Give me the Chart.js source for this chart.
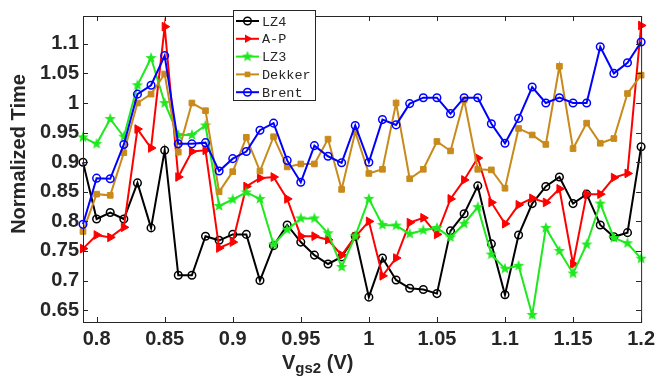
<!DOCTYPE html>
<html>
<head>
<meta charset="utf-8">
<script src="https://cdn.jsdelivr.net/npm/chart.js@4.4.0/dist/chart.umd.min.js"></script>
<style>
html, body { margin: 0; padding: 0; background: #fff; }
</style>
</head>
<body>
<canvas id="chart" width="660" height="379"></canvas>
<script>
// Gate voltage (x) and normalized times for each solver
const vgs = [0.79, 0.80, 0.81, 0.82, 0.83, 0.84, 0.85, 0.86, 0.87, 0.88, 0.89, 0.90, 0.91, 0.92,
             0.93, 0.94, 0.95, 0.96, 0.97, 0.98, 0.99, 1.00, 1.01, 1.02, 1.03, 1.04, 1.05, 1.06,
             1.07, 1.08, 1.09, 1.10, 1.11, 1.12, 1.13, 1.14, 1.15, 1.16, 1.17, 1.18, 1.19, 1.20];
const lz4 = [0.900, 0.804, 0.815, 0.804, 0.865, 0.789, 0.920, 0.709, 0.709, 0.775, 0.768, 0.778, 0.778, 0.700,
             0.759, 0.794, 0.765, 0.743, 0.728, 0.740, 0.775, 0.672, 0.738, 0.701, 0.687, 0.685, 0.678, 0.784,
             0.813, 0.860, 0.762, 0.676, 0.777, 0.830, 0.859, 0.875, 0.830, 0.846, 0.794, 0.774, 0.781, 0.926];
const ap = [0.754, 0.777, 0.773, 0.790, 0.956, 0.924, 1.129, 0.875, 0.918, 0.920, 0.755, 0.765, 0.859, 0.873,
            0.875, 0.838, 0.775, 0.775, 0.769, 0.743, 0.774, 0.800, 0.708, 0.738, 0.798, 0.806, 0.778, 0.838,
            0.870, 0.907, 0.832, 0.796, 0.828, 0.839, 0.832, 0.855, 0.728, 0.846, 0.846, 0.874, 0.881, 1.131];
const lz3 = [0.942, 0.931, 0.973, 0.943, 1.030, 1.076, 1.000, 0.946, 0.946, 0.962, 0.826, 0.837, 0.849, 0.838,
             0.761, 0.786, 0.805, 0.805, 0.780, 0.723, 0.775, 0.838, 0.794, 0.793, 0.779, 0.785, 0.789, 0.773,
             0.796, 0.824, 0.744, 0.720, 0.725, 0.642, 0.789, 0.750, 0.712, 0.761, 0.830, 0.772, 0.763, 0.737];
const dekker = [0.783, 0.846, 0.844, 0.916, 1.000, 1.015, 1.049, 0.917, 1.000, 0.987, 0.850, 0.884, 0.942, 0.885,
                0.943, 0.892, 0.897, 0.897, 0.939, 0.854, 0.951, 0.881, 0.888, 1.000, 0.872, 0.888, 0.935, 0.919,
                1.005, 0.888, 0.887, 0.856, 0.957, 0.946, 0.930, 1.062, 0.923, 0.966, 0.932, 0.940, 1.016, 1.047];
const brent = [0.795, 0.873, 0.872, 0.930, 1.015, 1.030, 1.080, 0.931, 0.931, 0.933, 0.885, 0.906, 0.918, 0.954,
               0.966, 0.903, 0.866, 0.928, 0.910, 0.899, 0.962, 0.900, 0.972, 0.963, 0.999, 1.009, 1.009, 0.982,
               1.009, 1.009, 0.965, 0.932, 0.974, 1.027, 1.000, 1.009, 1.000, 1.000, 1.095, 1.050, 1.068, 1.103];
const xTicks = [0.8, 0.85, 0.9, 0.95, 1, 1.05, 1.1, 1.15, 1.2];
const yTicks = [0.65, 0.7, 0.75, 0.8, 0.85, 0.9, 0.95, 1, 1.05, 1.1];

const GREEN = '#1ee81e';
const GOLD = '#c98a1c';

// filled pentagram used as the LZ3 marker
function makeStar(size, color) {
    const c = document.createElement('canvas');
    c.width = size; c.height = size;
    const g = c.getContext('2d');
    const r = size / 2, ri = r * 0.42;
    g.beginPath();
    for (let k = 0; k < 10; k++) {
        const rad = k % 2 === 0 ? r : ri;
        const a = -Math.PI / 2 + k * Math.PI / 5;
        g.lineTo(r + rad * Math.cos(a), r + rad * Math.sin(a));
    }
    g.closePath();
    g.fillStyle = color;
    g.fill();
    return c;
}
const starImg = makeStar(12, GREEN);

function pts(arr) {
    return arr.map((v, i) => ({ x: vgs[i], y: v }));
}

const series = [
    { label: 'LZ4', data: pts(lz4), borderColor: '#000', backgroundColor: 'rgba(0,0,0,0)',
      pointStyle: 'circle', pointRadius: 3.8, pointBorderWidth: 1.5, order: 5 },
    { label: 'A-P', data: pts(ap), borderColor: '#ff0000', backgroundColor: '#ff0000',
      pointStyle: 'triangle', pointRotation: 90, pointRadius: 5, pointBorderWidth: 1, order: 4 },
    { label: 'LZ3', data: pts(lz3), borderColor: GREEN, backgroundColor: GREEN,
      pointStyle: starImg, pointRadius: 6, order: 3 },
    { label: 'Dekker', data: pts(dekker), borderColor: GOLD, backgroundColor: GOLD,
      pointStyle: 'rect', pointRadius: 4, pointBorderWidth: 1, order: 2 },
    { label: 'Brent', data: pts(brent), borderColor: '#0000ff', backgroundColor: 'rgba(0,0,0,0)',
      pointStyle: 'circle', pointRadius: 3.8, pointBorderWidth: 1.5, order: 1 }
];
series.forEach(s => {
    s.borderWidth = 2;
    s.tension = 0;
    s.fill = false;
    s.clip = false;
    s.pointHoverRadius = s.pointRadius;
});

function drawMarker(ctx, s, x, y) {
    ctx.save();
    ctx.strokeStyle = s.borderColor;
    ctx.fillStyle = s.backgroundColor;
    ctx.lineWidth = 1.5;
    if (s.label === 'LZ3') {
        ctx.drawImage(starImg, x - 6, y - 6);
    } else if (s.pointStyle === 'circle') {
        ctx.beginPath(); ctx.arc(x, y, 3.8, 0, Math.PI * 2); ctx.stroke();
    } else if (s.pointStyle === 'triangle') {
        ctx.beginPath();
        ctx.moveTo(x + 5, y); ctx.lineTo(x - 2.5, y - 4.3); ctx.lineTo(x - 2.5, y + 4.3);
        ctx.closePath(); ctx.fill();
    } else {
        ctx.fillRect(x - 2.8, y - 2.8, 5.6, 5.6);
    }
    ctx.restore();
}

const framePlugin = {
    id: 'frame',
    afterDatasetsDraw(chart) {
        const ctx = chart.ctx;
        const a = chart.chartArea;
        const xs = chart.scales.x, ys = chart.scales.y;
        ctx.save();
        ctx.strokeStyle = '#262626';
        ctx.lineWidth = 1;
        ctx.strokeRect(a.left + 0.5, a.top + 0.5, a.right - a.left, a.bottom - a.top);
        ctx.beginPath();
        xTicks.forEach(t => {
            const px = Math.round(xs.getPixelForValue(t)) + 0.5;
            ctx.moveTo(px, a.bottom); ctx.lineTo(px, a.bottom - 5);
            ctx.moveTo(px, a.top); ctx.lineTo(px, a.top + 5);
        });
        yTicks.forEach(t => {
            const py = Math.round(ys.getPixelForValue(t)) + 0.5;
            ctx.moveTo(a.left, py); ctx.lineTo(a.left + 5, py);
            ctx.moveTo(a.right, py); ctx.lineTo(a.right - 5, py);
        });
        ctx.stroke();

        // legend box
        const lx = 233, ly = 10, lw = 82, lh = 90;
        ctx.fillStyle = '#fff';
        ctx.fillRect(lx, ly, lw, lh);
        ctx.strokeStyle = '#262626';
        ctx.strokeRect(lx + 0.5, ly + 0.5, lw, lh);
        ctx.font = '13.5px "Liberation Mono", monospace';
        ctx.textBaseline = 'middle';
        series.forEach((s, i) => {
            const y = 21 + i * 17.8;
            ctx.strokeStyle = s.borderColor;
            ctx.lineWidth = 2;
            ctx.beginPath(); ctx.moveTo(236, y); ctx.lineTo(259, y); ctx.stroke();
            drawMarker(ctx, s, 247.5, y);
            ctx.fillStyle = '#262626';
            ctx.fillText(s.label, 262, y + 1);
        });

        // axis titles
        ctx.fillStyle = '#262626';
        ctx.font = 'bold 20px "Liberation Sans", Arial, sans-serif';
        ctx.textBaseline = 'alphabetic';
        ctx.save();
        ctx.translate(25, 154);
        ctx.rotate(-Math.PI / 2);
        ctx.textAlign = 'center';
        ctx.fillText('Normalized Time', 0, 0);
        ctx.restore();

        ctx.textAlign = 'left';
        let x = 282;
        ctx.fillText('V', x, 369);
        x += ctx.measureText('V').width;
        ctx.font = 'bold 15px "Liberation Sans", Arial, sans-serif';
        ctx.fillText('gs2', x, 373);
        x += ctx.measureText('gs2').width;
        ctx.font = 'bold 20px "Liberation Sans", Arial, sans-serif';
        ctx.fillText(' (V)', x, 369);
        ctx.restore();
    }
};

const tickFont = { family: '"Liberation Sans", Arial, sans-serif', size: 20, weight: 'bold' };

new Chart(document.getElementById('chart'), {
    type: 'line',
    data: { datasets: series },
    options: {
        responsive: false,
        animation: false,
        events: [],
        layout: { padding: { top: 4, right: 14, left: 0, bottom: 0 } },
        plugins: { legend: { display: false }, tooltip: { enabled: false } },
        scales: {
            x: {
                type: 'linear',
                min: 0.79,
                max: 1.2,
                afterBuildTicks: axis => { axis.ticks = xTicks.map(v => ({ value: v })); },
                afterFit: axis => { axis.height = 57; },
                grid: { display: false, drawTicks: false },
                border: { display: false },
                ticks: { color: '#262626', font: tickFont, padding: 5, maxRotation: 0,
                         callback: v => String(v) }
            },
            y: {
                min: 0.63,
                max: 1.147,
                afterBuildTicks: axis => { axis.ticks = yTicks.map(v => ({ value: v })); },
                afterFit: axis => { axis.width = 83; },
                grid: { display: false, drawTicks: false },
                border: { display: false },
                ticks: { color: '#262626', font: tickFont, padding: 4,
                         callback: v => String(v) }
            }
        }
    },
    plugins: [framePlugin]
});
</script>
</body>
</html>
